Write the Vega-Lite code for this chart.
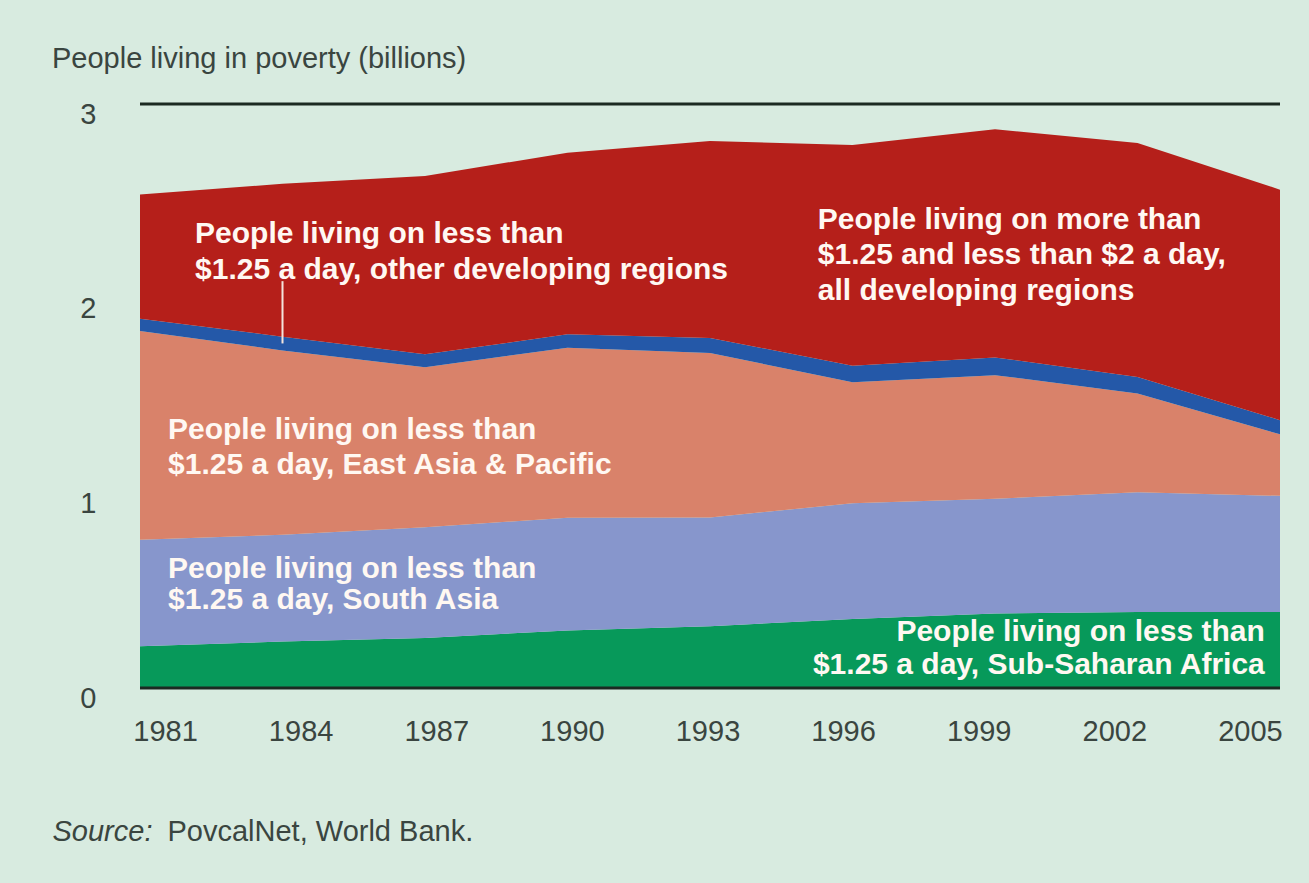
{
  "$schema": "https://vega.github.io/schema/vega-lite/v6.json",
  "autosize": {"type": "none"},
  "width": 1140,
  "height": 584,
  "padding": {"left": 140, "top": 104, "right": 29, "bottom": 195},
  "background": "#d8ebe0",
  "config": {
    "view": {"stroke": null},
    "font": "Liberation Sans"
  },
  "title": {
    "text": "People living in poverty (billions)",
    "anchor": "start",
    "frame": "group",
    "dx": -88,
    "offset": 3,
    "baseline": "alphabetic",
    "fontSize": 29,
    "fontWeight": "normal",
    "color": "#3a4540",
    "font": "Liberation Sans"
  },
  "datasets": {
    "poverty": [
      {"year": 1981, "series": "Sub-Saharan Africa", "value": 0.214},
      {"year": 1984, "series": "Sub-Saharan Africa", "value": 0.239},
      {"year": 1987, "series": "Sub-Saharan Africa", "value": 0.257},
      {"year": 1990, "series": "Sub-Saharan Africa", "value": 0.296},
      {"year": 1993, "series": "Sub-Saharan Africa", "value": 0.317},
      {"year": 1996, "series": "Sub-Saharan Africa", "value": 0.355},
      {"year": 1999, "series": "Sub-Saharan Africa", "value": 0.383},
      {"year": 2002, "series": "Sub-Saharan Africa", "value": 0.390},
      {"year": 2005, "series": "Sub-Saharan Africa", "value": 0.391},
      {"year": 1981, "series": "South Asia", "value": 0.548},
      {"year": 1984, "series": "South Asia", "value": 0.548},
      {"year": 1987, "series": "South Asia", "value": 0.569},
      {"year": 1990, "series": "South Asia", "value": 0.579},
      {"year": 1993, "series": "South Asia", "value": 0.559},
      {"year": 1996, "series": "South Asia", "value": 0.594},
      {"year": 1999, "series": "South Asia", "value": 0.589},
      {"year": 2002, "series": "South Asia", "value": 0.616},
      {"year": 2005, "series": "South Asia", "value": 0.596},
      {"year": 1981, "series": "East Asia & Pacific", "value": 1.072},
      {"year": 1984, "series": "East Asia & Pacific", "value": 0.947},
      {"year": 1987, "series": "East Asia & Pacific", "value": 0.822},
      {"year": 1990, "series": "East Asia & Pacific", "value": 0.873},
      {"year": 1993, "series": "East Asia & Pacific", "value": 0.845},
      {"year": 1996, "series": "East Asia & Pacific", "value": 0.622},
      {"year": 1999, "series": "East Asia & Pacific", "value": 0.635},
      {"year": 2002, "series": "East Asia & Pacific", "value": 0.507},
      {"year": 2005, "series": "East Asia & Pacific", "value": 0.316},
      {"year": 1981, "series": "Developing regions, other", "value": 0.063},
      {"year": 1984, "series": "Developing regions, other", "value": 0.071},
      {"year": 1987, "series": "Developing regions, other", "value": 0.066},
      {"year": 1990, "series": "Developing regions, other", "value": 0.069},
      {"year": 1993, "series": "Developing regions, other", "value": 0.077},
      {"year": 1996, "series": "Developing regions, other", "value": 0.085},
      {"year": 1999, "series": "Developing regions, other", "value": 0.091},
      {"year": 2002, "series": "Developing regions, other", "value": 0.085},
      {"year": 2005, "series": "Developing regions, other", "value": 0.073},
      {"year": 1981, "series": "$1.25 to $2 a day, all developing regions", "value": 0.638},
      {"year": 1984, "series": "$1.25 to $2 a day, all developing regions", "value": 0.785},
      {"year": 1987, "series": "$1.25 to $2 a day, all developing regions", "value": 0.916},
      {"year": 1990, "series": "$1.25 to $2 a day, all developing regions", "value": 0.933},
      {"year": 1993, "series": "$1.25 to $2 a day, all developing regions", "value": 1.012},
      {"year": 1996, "series": "$1.25 to $2 a day, all developing regions", "value": 1.134},
      {"year": 1999, "series": "$1.25 to $2 a day, all developing regions", "value": 1.172},
      {"year": 2002, "series": "$1.25 to $2 a day, all developing regions", "value": 1.202},
      {"year": 2005, "series": "$1.25 to $2 a day, all developing regions", "value": 1.184}
    ],
    "years": [
      {"year": 1981}, {"year": 1984}, {"year": 1987}, {"year": 1990}, {"year": 1993},
      {"year": 1996}, {"year": 1999}, {"year": 2002}, {"year": 2005}
    ],
    "one": [{}]
  },
  "layer": [
    {
      "layer": [
        {
          "data": {"name": "poverty"},
          "mark": {"type": "area", "interpolate": "linear"},
          "encoding": {
            "x": {
              "field": "year",
              "type": "quantitative",
              "scale": {"domain": [1981, 2005], "nice": false, "zero": false},
              "axis": null
            },
            "y": {
              "field": "value",
              "type": "quantitative",
              "stack": "zero",
              "scale": {"domain": [0, 3], "nice": false},
              "axis": {
                "values": [0, 1, 2, 3],
                "format": "d",
                "grid": false,
                "ticks": false,
                "domain": false,
                "labelFontSize": 29,
                "labelColor": "#3a4540",
                "labelPadding": 44,
                "labelAlign": "right",
                "labelBaseline": "middle",
                "labelOffset": 10,
                "title": "Source:",
                "titleFontSize": 29,
                "titleFontWeight": "normal",
                "titleFontStyle": "italic",
                "titleColor": "#3a4540",
                "titleAngle": 0,
                "titleAlign": "left",
                "titleBaseline": "alphabetic",
                "titleX": -88,
                "titleY": 736
              }
            },
            "color": {
              "field": "series",
              "type": "nominal",
              "scale": {
                "domain": ["$1.25 to $2 a day, all developing regions", "Developing regions, other", "East Asia & Pacific", "South Asia", "Sub-Saharan Africa"],
                "range": ["#b51f1a", "#2458a8", "#d9826a", "#8796cc", "#07995a"]
              },
              "legend": null
            }
          }
        },
        {
          "data": {"name": "one"},
          "mark": {"type": "rule", "color": "#1c2a22", "strokeWidth": 3},
          "encoding": {"y": {"datum": 3}}
        },
        {
          "data": {"name": "one"},
          "mark": {"type": "rule", "color": "#1c2a22", "strokeWidth": 3},
          "encoding": {"y": {"datum": 0}}
        },
        {
          "data": {"name": "one"},
          "mark": {"type": "rule", "color": "#f4e4dc", "strokeWidth": 2},
          "encoding": {"x": {"datum": 1984}, "y": {"datum": 2.09}, "y2": {"datum": 1.77}}
        },
        {
          "data": {"name": "one"},
          "mark": {"type": "text", "align": "left", "baseline": "alphabetic", "fontSize": 30, "fontWeight": "bold", "color": "#fff8f2", "lineHeight": 36,
            "text": ["People living on less than", "$1.25 a day, other developing regions"]},
          "encoding": {"x": {"datum": 1982.16}, "y": {"datum": 2.286}}
        },
        {
          "data": {"name": "one"},
          "mark": {"type": "text", "align": "left", "baseline": "alphabetic", "fontSize": 30, "fontWeight": "bold", "color": "#fff8f2", "lineHeight": 35.5,
            "text": ["People living on more than", "$1.25 and less than $2 a day,", "all developing regions"]},
          "encoding": {"x": {"datum": 1995.27}, "y": {"datum": 2.358}}
        },
        {
          "data": {"name": "one"},
          "mark": {"type": "text", "align": "left", "baseline": "alphabetic", "fontSize": 30, "fontWeight": "bold", "color": "#fff8f2", "lineHeight": 35,
            "text": ["People living on less than", "$1.25 a day, East Asia & Pacific"]},
          "encoding": {"x": {"datum": 1981.59}, "y": {"datum": 1.279}}
        },
        {
          "data": {"name": "one"},
          "mark": {"type": "text", "align": "left", "baseline": "alphabetic", "fontSize": 30, "fontWeight": "bold", "color": "#fff8f2", "lineHeight": 31,
            "text": ["People living on less than", "$1.25 a day, South Asia"]},
          "encoding": {"x": {"datum": 1981.59}, "y": {"datum": 0.565}}
        },
        {
          "data": {"name": "one"},
          "mark": {"type": "text", "align": "right", "baseline": "alphabetic", "fontSize": 30, "fontWeight": "bold", "color": "#fff8f2", "lineHeight": 33,
            "text": ["People living on less than", "$1.25 a day, Sub-Saharan Africa"]},
          "encoding": {"x": {"datum": 2004.68}, "y": {"datum": 0.241}}
        }
      ]
    },
    {
      "data": {"name": "years"},
      "mark": {"type": "point", "opacity": 0},
      "encoding": {
        "x": {
          "field": "year",
          "type": "quantitative",
          "scale": {"domain": [1980.447, 2005.664], "nice": false, "zero": false},
          "axis": {
            "orient": "bottom",
            "values": [1981, 1984, 1987, 1990, 1993, 1996, 1999, 2002, 2005],
            "format": "d",
            "grid": false,
            "ticks": false,
            "domain": false,
            "labelFlush": false,
            "labelFontSize": 29,
            "labelColor": "#3a4540",
            "labelPadding": 29,
            "labelBaseline": "top",
            "title": "PovcalNet, World Bank.",
            "titleFontSize": 29,
            "titleFontWeight": "normal",
            "titleColor": "#3a4540",
            "titleAnchor": "start",
            "titleAlign": "left",
            "titleBaseline": "alphabetic",
            "titleX": 27,
            "titleY": 152
          }
        },
        "y": {"datum": 0}
      }
    }
  ],
  "resolve": {"scale": {"x": "independent"}, "axis": {"x": "independent"}}
}
